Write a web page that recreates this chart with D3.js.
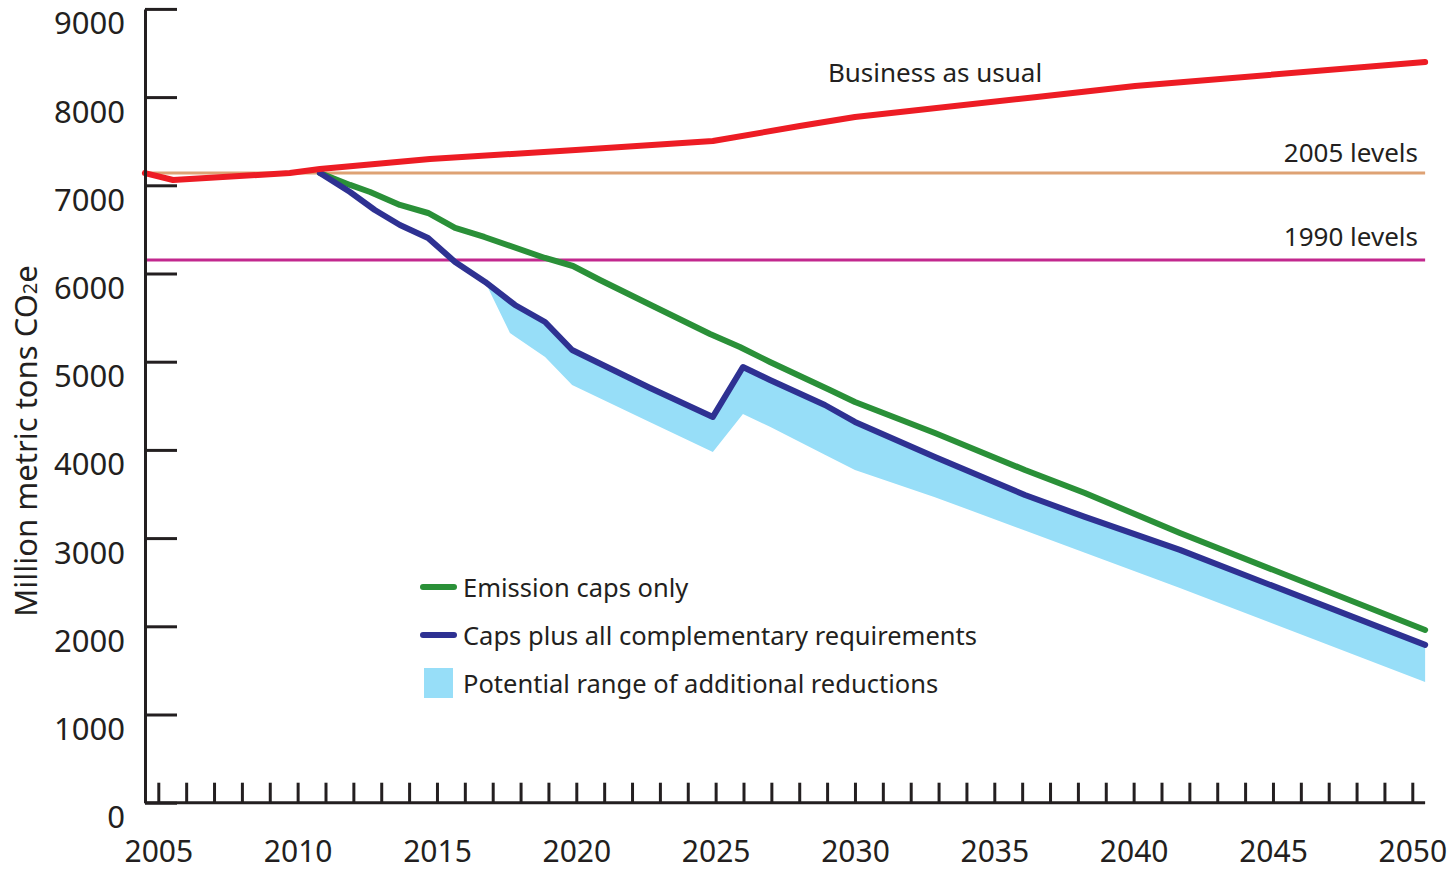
<!DOCTYPE html>
<html>
<head>
<meta charset="utf-8">
<script src="https://cdn.jsdelivr.net/npm/d3@7"></script>
<style>
  html, body { margin: 0; padding: 0; background: #fff; }
  svg { display: block; font-family: 'Noto Sans', 'Open Sans', sans-serif; }
</style>
</head>
<body>
<svg id="chart" width="1452" height="872"></svg>
<script>
// ---------- DATA ----------
const bauYears = [2004.52, 2005.53, 2009.72, 2010.8, 2014.75, 2019.98, 2024.9, 2028.02, 2030.0, 2036.53, 2040.05, 2050.46];
const bauValues = [7139, 7060, 7139, 7185, 7298, 7400, 7502, 7672, 7774, 8001, 8126, 8398];

const capsYears = [2010.8, 2011.88, 2012.6, 2013.67, 2014.68, 2015.65, 2016.7, 2018.88, 2019.88, 2020.85, 2022.82, 2024.8, 2025.87, 2026.95, 2029.1, 2030.0, 2032.87, 2036.1, 2038.25, 2041.66, 2050.46];
const capsValues = [7139, 7004, 6924, 6777, 6686, 6516, 6414, 6176, 6085, 5926, 5620, 5314, 5166, 4997, 4679, 4543, 4192, 3772, 3511, 3058, 1958];

const fullYears = [2010.8, 2011.88, 2012.77, 2013.67, 2014.68, 2015.65, 2016.73, 2017.8, 2018.88, 2019.85, 2022.65, 2024.9, 2025.98, 2026.95, 2028.92, 2030.0, 2032.87, 2036.1, 2038.25, 2041.66, 2050.46];
const fullValues = [7139, 6924, 6720, 6550, 6403, 6131, 5904, 5643, 5450, 5133, 4702, 4374, 4940, 4793, 4509, 4317, 3920, 3489, 3240, 2866, 1789];

const bandYears = [2016.73, 2017.62, 2017.8, 2018.88, 2019.85, 2022.65, 2024.9, 2025.98, 2026.95, 2028.92, 2030.0, 2032.87, 2036.1, 2038.25, 2041.66, 2050.46];
const bandHigh = [5904, 5686, 5643, 5450, 5133, 4702, 4374, 4940, 4793, 4509, 4317, 3920, 3489, 3240, 2866, 1789];
const bandLow = [5904, 5326, 5287, 5054, 4737, 4314, 3977, 4408, 4263, 3946, 3773, 3464, 3086, 2834, 2435, 1369];

const level2005 = 7139;
const level1990 = 6153;
const levelYears = [2004.52, 2050.46];

const yTicks = [0, 1000, 2000, 3000, 4000, 5000, 6000, 7000, 8000, 9000];
const xLabelYears = [2005, 2010, 2015, 2020, 2025, 2030, 2035, 2040, 2045, 2050];

const legendItems = [
  { label: 'Emission caps only', kind: 'line', color: '#2a9038' },
  { label: 'Caps plus all complementary requirements', kind: 'line', color: '#2e3192' },
  { label: 'Potential range of additional reductions', kind: 'box', color: '#97def8' },
];

// ---------- CHART ----------
(function initChart() {
  const svg = d3.select('#chart');
  const ink = '#231f20';

  const x = d3.scaleLinear().domain([2005, 2050]).range([158.3, 1412.3]);
  const y = d3.scaleLinear().domain([0, 9000]).range([802.7, 8.9]);

  const zip = (xs, ys) => xs.map((v, i) => ({ year: v, value: ys[i] }));
  const line = d3.line().x((d) => x(d.year)).y((d) => y(d.value));

  // band
  const band = bandYears.map((v, i) => ({ year: v, lo: bandLow[i], hi: bandHigh[i] }));
  svg.append('path')
    .datum(band)
    .attr('fill', '#97def8')
    .attr('d', d3.area().x((d) => x(d.year)).y0((d) => y(d.lo)).y1((d) => y(d.hi)));

  // reference levels
  svg.append('path')
    .datum(levelYears.map((v) => ({ year: v, value: level2005 })))
    .attr('fill', 'none').attr('stroke', '#dea274').attr('stroke-width', 3)
    .attr('d', line);
  svg.append('path')
    .datum(levelYears.map((v) => ({ year: v, value: level1990 })))
    .attr('fill', 'none').attr('stroke', '#c2288e').attr('stroke-width', 3)
    .attr('d', line);

  // series lines
  const series = [
    { data: zip(capsYears, capsValues), color: '#2a9038' },
    { data: zip(fullYears, fullValues), color: '#2e3192' },
    { data: zip(bauYears, bauValues), color: '#ed1c24' },
  ];
  series.forEach((s) => {
    svg.append('path')
      .datum(s.data)
      .attr('fill', 'none')
      .attr('stroke', s.color)
      .attr('stroke-width', 6)
      .attr('stroke-linejoin', 'round')
      .attr('stroke-linecap', 'round')
      .attr('d', line);
  });

  // y axis (ticks point inward, labels hang below the tick)
  const yAxis = svg.append('g')
    .attr('transform', 'translate(145,0)')
    .call(d3.axisLeft(y).tickValues(yTicks).tickFormat(d3.format('d'))
      .tickSizeInner(-32).tickSizeOuter(0).tickPadding(20));
  yAxis.select('.domain').attr('stroke', ink).attr('stroke-width', 3);
  yAxis.selectAll('.tick line').attr('stroke', ink).attr('stroke-width', 3);
  yAxis.selectAll('.tick text')
    .attr('fill', ink).attr('font-size', 31).attr('font-family', "'Noto Sans', sans-serif")
    .attr('dy', 25);

  // x axis (a tick every year, labels every 5 years)
  const xAxis = svg.append('g')
    .attr('transform', 'translate(0,802.7)')
    .call(d3.axisBottom(x).tickValues(d3.range(2005, 2051)).tickSizeInner(-20).tickSizeOuter(0)
      .tickFormat((d) => (xLabelYears.includes(d) ? d : '')));
  xAxis.select('.domain').remove();
  xAxis.selectAll('.tick line').attr('stroke', ink).attr('stroke-width', 3);
  xAxis.selectAll('.tick text')
    .attr('fill', ink).attr('font-size', 30).attr('font-family', "'Noto Sans', sans-serif")
    .attr('y', 59).attr('dy', 0);
  xAxis.append('line')
    .attr('x1', x(2004.52)).attr('x2', x(2050.46))
    .attr('stroke', ink).attr('stroke-width', 3);

  // y title
  const yt = svg.append('text')
    .attr('transform', 'translate(37,441) rotate(-90)')
    .attr('text-anchor', 'middle')
    .attr('fill', ink)
    .attr('font-size', 31);
  yt.append('tspan').text('Million metric tons CO');
  yt.append('tspan').attr('font-size', 20).text('2');
  yt.append('tspan').text('e');

  // line labels
  svg.append('text').attr('x', 935).attr('y', 82).attr('text-anchor', 'middle')
    .attr('fill', ink).attr('font-size', 26).text('Business as usual');
  svg.append('text').attr('x', 1418).attr('y', 162).attr('text-anchor', 'end')
    .attr('fill', ink).attr('font-size', 26).text('2005 levels');
  svg.append('text').attr('x', 1418).attr('y', 246).attr('text-anchor', 'end')
    .attr('fill', ink).attr('font-size', 26).text('1990 levels');

  // legend
  const lg = svg.append('g').attr('transform', 'translate(420,587)');
  legendItems.forEach((d, i) => {
    const row = lg.append('g').attr('transform', `translate(0,${i * 48})`);
    if (d.kind === 'line') {
      row.append('line').attr('x1', 3).attr('x2', 34)
        .attr('stroke', d.color).attr('stroke-width', 6).attr('stroke-linecap', 'round');
    } else {
      row.append('rect').attr('x', 4).attr('y', -15).attr('width', 29).attr('height', 30).attr('fill', d.color);
    }
    row.append('text').attr('x', 43).attr('y', 10).attr('fill', ink)
      .attr('font-size', 25.5).text(d.label);
  });
})();
</script>
</body>
</html>
